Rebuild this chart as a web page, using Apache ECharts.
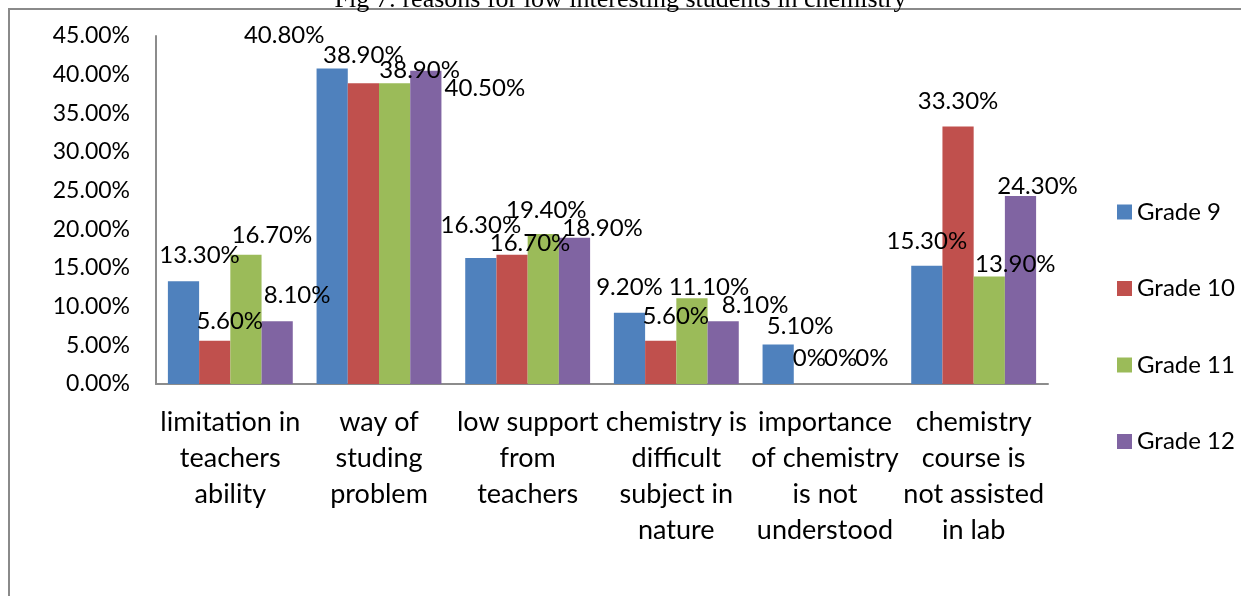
<!DOCTYPE html>
<html>
<head>
<meta charset="utf-8">
<title>Fig 7</title>
<script src="https://cdn.jsdelivr.net/npm/echarts@6/dist/echarts.min.js"></script>
<style>
  html, body { margin: 0; padding: 0; background: #fff; }
  #chart { width: 1241px; height: 596px; }
</style>
</head>
<body>
<div id="chart"></div>
<script>
// categories (x axis), wrapped like the original
const categories = [
  'limitation in\nteachers\nability',
  'way of\nstuding\nproblem',
  'low support\nfrom\nteachers',
  'chemistry is\ndifficult\nsubject in\nnature',
  'importance\nof chemistry\nis not\nunderstood',
  'chemistry\ncourse is\nnot assisted\nin lab'
];
const seriesNames = ['Grade 9', 'Grade 10', 'Grade 11', 'Grade 12'];

// values in percent
const grade9 = [13.3, 40.8, 16.3, 9.2, 5.1, 15.3];
const grade10 = [5.6, 38.9, 16.7, 5.6, 0, 33.3];
const grade11 = [16.7, 38.9, 19.4, 11.1, 0, 13.9];
const grade12 = [8.1, 40.5, 18.9, 8.1, 0, 24.3];

const yTicks = [0, 5, 10, 15, 20, 25, 30, 35, 40, 45];

const colors = ['#4F81BD', '#C0504D', '#9BBB59', '#8064A2'];

// data label nudges as in the source picture: [dx, px above bar top]
const labelNudge = [
  [[16, 26], [-48, 33], [0, 33], [0, 26], [22, 18], [0, 24]],
  [[15, 19], [0, 28], [18, 12], [15, 24], [0, 26], [0, 25]],
  [[26, 20], [25, 13], [3, 24], [17, 11], [0, 26], [26, 12]],
  [[20, 26], [59, -17], [28, 10], [32, 16], [0, 26], [17, 10]]
];

const FONT = 'Lato, "Open Sans", sans-serif';
const LABEL_SIZE = 24;

const chart = echarts.init(document.getElementById('chart'));

const allValues = [grade9, grade10, grade11, grade12];

const series = allValues.map((vals, s) => ({
  name: seriesNames[s],
  type: 'bar',
  barGap: '0%',
  barCategoryGap: '16%',
  itemStyle: { color: colors[s] },
  label: {
    show: true,
    position: 'top',
    distance: 0,
    color: '#000',
    fontFamily: FONT,
    fontSize: LABEL_SIZE,
    formatter: p => (p.value === 0 ? '0%' : p.value.toFixed(2) + '%')
  },
  data: vals.map((v, i) => ({
    value: v,
    label: { offset: [labelNudge[s][i][0], LABEL_SIZE / 2 - labelNudge[s][i][1]] }
  }))
}));

chart.setOption({
  animation: false,
  title: {
    text: 'Fig 7: reasons for low interesting students in chemistry',
    left: 'center',
    top: -18,
    textStyle: {
      fontFamily: '"Liberation Serif", serif',
      fontWeight: 'normal',
      fontSize: 26,
      color: '#000'
    }
  },
  graphic: [
    { type: 'line', shape: { x1: 9, y1: 9, x2: 9, y2: 596 }, style: { stroke: '#8a8a8a', lineWidth: 2 } },
    { type: 'line', shape: { x1: 8, y1: 9, x2: 1241, y2: 9 }, style: { stroke: '#8a8a8a', lineWidth: 2 } }
  ],
  legend: {
    orient: 'vertical',
    left: 1112,
    top: 195,
    itemWidth: 15,
    itemHeight: 15,
    itemGap: 52.5,
    icon: 'rect',
    textStyle: { fontFamily: FONT, fontSize: 24, color: '#000' },
    data: seriesNames
  },
  grid: { left: 156, right: 193, top: 36, bottom: 212, containLabel: false },
  xAxis: {
    type: 'category',
    data: categories,
    axisLine: { lineStyle: { color: '#8c8c8c', width: 2 } },
    axisTick: { show: false },
    axisLabel: {
      interval: 0,
      margin: 20,
      color: '#000',
      fontFamily: FONT,
      fontSize: 27,
      lineHeight: 36
    }
  },
  yAxis: {
    type: 'value',
    min: yTicks[0],
    max: yTicks[yTicks.length - 1],
    interval: 5,
    axisLine: { show: true, lineStyle: { color: '#8c8c8c', width: 2 } },
    axisTick: { show: false },
    splitLine: { show: false },
    axisLabel: {
      margin: 26,
      color: '#000',
      fontFamily: FONT,
      fontSize: 23,
      formatter: v => v.toFixed(2) + '%'
    }
  },
  series: series
});
</script>
</body>
</html>
